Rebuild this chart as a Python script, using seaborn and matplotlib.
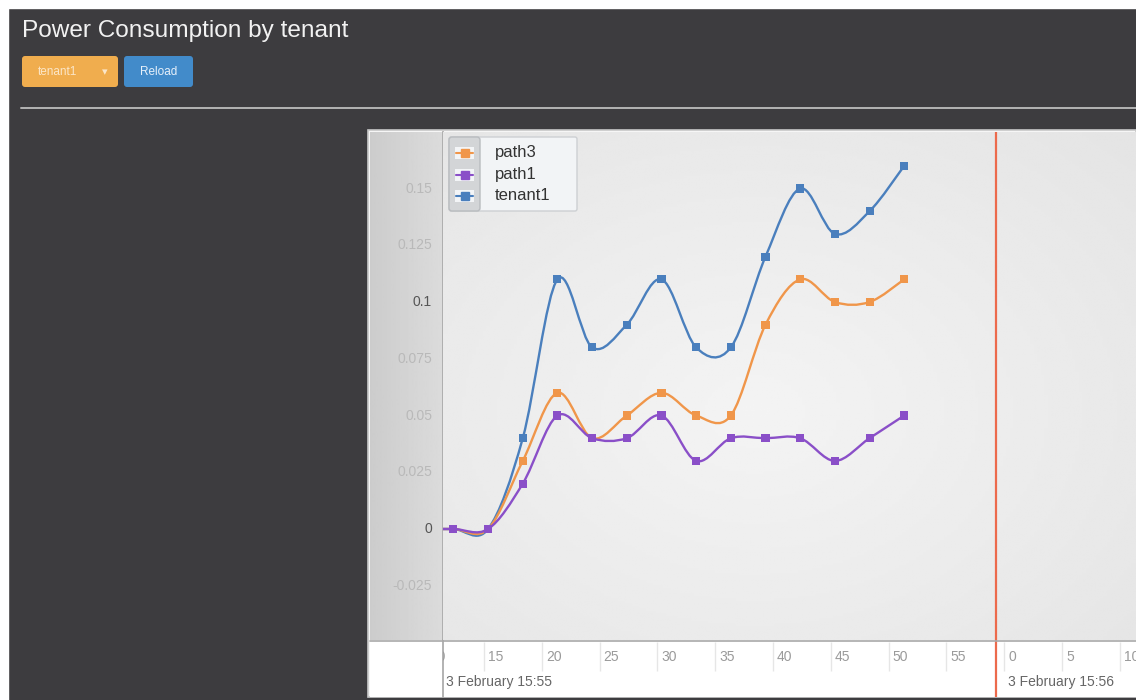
import numpy as np
import pandas as pd
import matplotlib
matplotlib.use("Agg")
import matplotlib.pyplot as plt
import seaborn as sns
from matplotlib.path import Path
from matplotlib.patches import PathPatch, FancyBboxPatch, Rectangle
from matplotlib.lines import Line2D
from matplotlib.transforms import Affine2D, blended_transform_factory

# ─────────────────────────────────────────────
# data (seconds after 15:55:00, power values)
# ─────────────────────────────────────────────
seconds = [9.35, 12.35, 15.35, 18.35, 21.35, 24.35, 27.35, 30.35,
           33.35, 36.35, 39.35, 42.35, 45.35, 48.35, 51.35]
tenant1 = [0, 0, 0, 0.04, 0.11, 0.08, 0.09, 0.11, 0.08, 0.08, 0.12, 0.15, 0.13, 0.14, 0.16]
path3 = [0, 0, 0, 0.03, 0.06, 0.04, 0.05, 0.06, 0.05, 0.05, 0.09, 0.11, 0.10, 0.10, 0.11]
path1 = [0, 0, 0, 0.02, 0.05, 0.04, 0.04, 0.05, 0.03, 0.04, 0.04, 0.04, 0.03, 0.04, 0.05]

legend_order = ["path3", "path1", "tenant1"]
colors = {"tenant1": "#4a7fbd", "path3": "#f0964a", "path1": "#8a4fc8"}

ytick_vals = [0.15, 0.125, 0.1, 0.075, 0.05, 0.025, 0, -0.025]
ytick_labels = ["0.15", "0.125", "0.1", "0.075", "0.05", "0.025", "0", "-0.025"]
ytick_dark = [False, False, True, False, False, False, True, False]

xtick_vals = [10, 15, 20, 25, 30, 35, 40, 45, 50, 55, 60, 65, 70]
xtick_labels = ["10", "15", "20", "25", "30", "35", "40", "45", "50", "55", "0", "5", "10"]
date_vals = [11.7, 60.3]
date_labels = ["3 February 15:55", "3 February 15:56"]
now_marker = 59.3

W, H = 1136, 700
FONT = ["Liberation Sans", "DejaVu Sans"]

sns.set_theme(style="white")
plt.rcParams["font.family"] = FONT

fig = plt.figure(figsize=(W / 100, H / 100), dpi=100, facecolor="#3d3c3f")
tp = Affine2D().scale(1 / W, -1 / H).translate(0, 1) + fig.transFigure


def rect(x0, y0, x1, y1):
    return [x0 / W, 1 - y1 / H, (x1 - x0) / W, (y1 - y0) / H]


# page chrome
fig.add_artist(Rectangle((0, 0), W, 8, transform=tp, color="white"))
fig.add_artist(Rectangle((0, 0), 8, H, transform=tp, color="white"))
fig.text(22 / W, 1 - 31 / H, "Power Consumption by tenant", fontsize=17.6,
         color="#f2f2f2", va="center", ha="left")
fig.add_artist(FancyBboxPatch((22, 56), 96, 31, boxstyle="round,pad=0,rounding_size=3",
                              transform=tp, facecolor="#f0ad4e", edgecolor="none"))
fig.add_artist(FancyBboxPatch((124, 56), 69, 31, boxstyle="round,pad=0,rounding_size=3",
                              transform=tp, facecolor="#428bca", edgecolor="none"))
fig.text(38 / W, 1 - 72 / H, "tenant1", fontsize=8.5, color="#fbe6c8", va="center")
fig.text(102 / W, 1 - 72 / H, "\u25be", fontsize=8, color="#fbe6c8", va="center",
         family=FONT)
fig.text(158.5 / W, 1 - 72 / H, "Reload", fontsize=8.5, color="#e6f0fa",
         va="center", ha="center")
fig.add_artist(Line2D([21, W], [108, 108], transform=tp, color="#b4b4b4", lw=1.4))

# chart frame (behind the axes)
fig.add_artist(Rectangle((368, 130), W - 368, 567, transform=tp, zorder=-2,
                         facecolor="#f6f6f6", edgecolor="#c8c8c8", lw=1.2))
fig.add_artist(Rectangle((370, 640), 73, 57, transform=tp, facecolor="white",
                         edgecolor="none", zorder=-1))

ylim = (-0.0489, 0.1749)
xlim = (11.45, 71.4)

# y axis panel
ay = fig.add_axes(rect(370, 132, 443, 640))
grad = np.linspace(0.80, 0.86, 64)[None, :]
ay.imshow(grad, extent=[0, 1, 0, 1], transform=ay.transAxes, aspect="auto",
          cmap="gray", vmin=0, vmax=1)
ay.set_xlim(0, 1)
ay.set_ylim(*ylim)
ay.set_xticks([])
ay.set_yticks([])
for s in ay.spines.values():
    s.set_visible(False)
ay.spines["right"].set_visible(True)
ay.spines["right"].set_color("#a9a9a9")
trY = blended_transform_factory(ay.transAxes, ay.transData)
for v, lab, dark in zip(ytick_vals, ytick_labels, ytick_dark):
    ay.text(0.85, v, lab, transform=trY, ha="right", va="center", fontsize=10,
            color="#555555" if dark else "#b9b9b9")

# x axis panel
axx = fig.add_axes(rect(443, 640, W, 697))
axx.set_facecolor("white")
axx.set_xlim(*xlim)
axx.set_ylim(0, 1)
axx.set_xticks([])
axx.set_yticks([])
for s in axx.spines.values():
    s.set_visible(False)
axx.spines["left"].set_visible(True)
axx.spines["left"].set_color("#a9a9a9")
axx.vlines(xtick_vals, 0.45, 0.97, color="#e6e6e6", lw=1)
for v, lab in zip(xtick_vals, xtick_labels):
    axx.text(v + 0.35, 0.7, lab, ha="left", va="center", fontsize=10,
             color="#9a9a9a", clip_on=True)
for v, lab in zip(date_vals, date_labels):
    axx.text(v, 0.26, lab, ha="left", va="center", fontsize=10, color="#666666")
axx.axvline(now_marker, color="#ec6a4c", lw=1.6)
fig.add_artist(Line2D([370, W], [640.5, 640.5], transform=tp, color="#a9a9a9", lw=1.2))

# plot area
ax = fig.add_axes(rect(443, 132, W, 640))
gx, gy = np.meshgrid(np.linspace(0, 1, 200), np.linspace(0, 1, 200))
rad = np.sqrt(((gx - 0.45) / 0.9) ** 2 + ((gy - 0.55) / 0.9) ** 2)
bg = 0.955 - 0.07 * np.clip(rad, 0, 1)
ax.imshow(bg, extent=[0, 1, 0, 1], transform=ax.transAxes, aspect="auto",
          cmap="gray", vmin=0, vmax=1, zorder=0)
ax.set_xlim(*xlim)
ax.set_ylim(*ylim)
ax.set_xticks([])
ax.set_yticks([])
for s in ax.spines.values():
    s.set_visible(False)

df = pd.DataFrame({
    "t": seconds * 3,
    "value": tenant1 + path3 + path1,
    "series": ["tenant1"] * len(seconds) + ["path3"] * len(seconds) + ["path1"] * len(seconds),
})


def spline_path(xs, ys):
    # cardinal (catmull-rom) curve through the points, as bezier segments
    pts = np.column_stack([xs, ys]).astype(float)
    ext = np.vstack([pts[0], pts, pts[-1]])
    verts = [pts[0]]
    codes = [Path.MOVETO]
    for i in range(1, len(ext) - 2):
        p0, p1, p2, p3 = ext[i - 1], ext[i], ext[i + 1], ext[i + 2]
        verts += [p1 + (p2 - p0) / 6, p2 - (p3 - p1) / 6, p2]
        codes += [Path.CURVE4] * 3
    return Path(verts, codes)


for name in ["tenant1", "path3", "path1"]:
    sub = df[df["series"] == name]
    ax.add_patch(PathPatch(spline_path(sub["t"], sub["value"]), facecolor="none",
                           edgecolor=colors[name], lw=1.7, zorder=2))

sns.scatterplot(data=df, x="t", y="value", hue="series", palette=colors, marker="s",
                s=34, linewidth=0, legend=False, ax=ax, zorder=3)
ax.set_xlim(*xlim)
ax.set_ylim(*ylim)
ax.set_xlabel("")
ax.set_ylabel("")
ax.axvline(now_marker, color="#ec6a4c", lw=1.6, zorder=4)

# legend box
ax.add_patch(FancyBboxPatch((449, 137), 128, 74, boxstyle="round,pad=0,rounding_size=2",
                            transform=tp, facecolor="#f2f4f6", edgecolor="#cdd0d3",
                            lw=1, zorder=8, clip_on=False))
ax.add_patch(FancyBboxPatch((449, 137), 31, 74, boxstyle="round,pad=0,rounding_size=3",
                            transform=tp, facecolor="#d3d5d7", edgecolor="#b9bcbf",
                            lw=1, zorder=9, clip_on=False))
for row, name in enumerate(legend_order):
    yy = 153 + row * 21.5
    ax.add_patch(Rectangle((455, yy - 6), 19, 12, transform=tp, facecolor="#f3f5f7",
                           edgecolor="none", zorder=10, clip_on=False))
    ax.add_line(Line2D([456, 473], [yy, yy], transform=tp, color=colors[name], lw=1.5,
                       zorder=11, clip_on=False))
    ax.add_line(Line2D([464.5], [yy], transform=tp, color=colors[name], marker="s",
                       markersize=6, lw=0, zorder=12, clip_on=False))
    ax.text(495, yy, name, transform=tp, fontsize=12, color="#333333", va="center",
            ha="left", zorder=12, clip_on=False)

fig.savefig("out.png", dpi=100, facecolor=fig.get_facecolor())
